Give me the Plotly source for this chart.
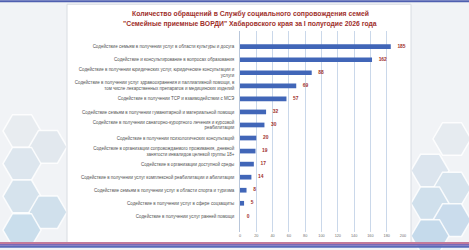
import plotly.graph_objects as go
import math

categories = [
    "Содействие семьям в получении услуг в области культуры и досуга",
    "Содействие и консультирование в вопросах образования",
    "Содействие в получении юридических услуг, юридические консультации и<br>услуги",
    "Содействие в получении услуг здравоохранения и паллиативной помощи, в<br>том числе лекарственных препаратов и медицинских изделий",
    "Содействие в получении ТСР и взаимодействии с МСЭ",
    "Содействие семьям в получении гуманитарной и материальной помощи",
    "Содействие в получении санаторно-курортного лечения и курсовой<br>реабилитации",
    "Содействие в получении психологических консультаций",
    "Содействие в организации сопровождаемого проживания, дневной<br>занятости инвалидов целевой группы 18+",
    "Содействие в организации доступной среды",
    "Содействие в получении услуг комплексной реабилитации и абилитации",
    "Содействие семьям в получении услуг в области спорта и туризма",
    "Содействие в получении услуг в сфере соцзащиты",
    "Содействие в получении услуг ранней помощи",
]
values = [185, 162, 88, 69, 57, 32, 30, 20, 19, 17, 14, 8, 5, 0]
x_ticks = list(range(0, 201, 20))
title_lines = ["Количество обращений в Службу социального сопровождения семей",
               "\"Семейные приемные ВОРДИ\" Хабаровского края за I полугодие 2026 года"]

W, H = 469, 250
ML, MR, MT, MB = 240, 66, 31, 16
PW, PH = W - ML - MR, H - MT - MB

def px(x):
    return (x - ML) / PW

def py(y):
    return (H - MB - y) / PH

fig = go.Figure()
fig.add_trace(go.Bar(
    y=categories, x=values, orientation="h",
    marker=dict(color="#4166b8", line=dict(width=0)),
    width=0.36,
))
fig.add_trace(go.Scatter(
    y=categories, x=values, mode="markers+text",
    marker=dict(size=9, color="rgba(0,0,0,0)"),
    text=["<b>%d</b>" % v for v in values], textposition="middle right",
    textfont=dict(size=4.9, color="#a0302c", family="Liberation Sans"),
    cliponaxis=False, hoverinfo="skip",
))

shapes = []
def hexagon(cx, cy, r, fill, line="rgba(255,255,255,0.85)"):
    pts = []
    for k in range(6):
        a = math.pi / 3 * k
        pts.append((cx + r * math.cos(a), cy + r * math.sin(a)))
    path = "M " + " L ".join(f"{px(a):.4f},{py(b):.4f}" for a, b in pts) + " Z"
    return dict(type="path", xref="paper", yref="paper", path=path,
                fillcolor=fill, line=dict(color=line, width=1.5), layer="below")

for (cx, cy, c) in [(22, 132, "#e8ecf0"), (48, 148, "#e2e8ee"), (22, 165, "#dde6ee"),
                    (22, 198, "#d6e3ed"), (48, 214, "#d0e0ec"), (22, 232, "#cadeec"),
                    (452, 140, "#e6ebf0"), (430, 172, "#dce5ee"), (452, 190, "#d6e3ed"),
                    (430, 205, "#d0e0ec"), (452, 222, "#cadcec"), (430, 238, "#c5daeb")]:
    shapes.append(hexagon(cx, cy, 19, c))

shapes.append(dict(type="rect", xref="paper", yref="paper", x0=px(67), x1=px(411),
                   y0=py(245), y1=py(4), fillcolor="white",
                   line=dict(color="#d8dce2", width=1), layer="below"))
shapes.append(dict(type="rect", xref="paper", yref="paper", x0=px(0), x1=px(W),
                   y0=py(2), y1=py(0), fillcolor="#4f5fb0", line=dict(width=0), layer="below"))
for y0, y1, c in [(244, 246, "#c27a9a"), (246, 248, "#7b68b8"), (248, 250, "#5a6ab8")]:
    shapes.append(dict(type="rect", xref="paper", yref="paper", x0=px(0), x1=px(W),
                       y0=py(y1), y1=py(y0), fillcolor=c, line=dict(width=0), layer="below"))

annotations = [
    dict(text="<b>" + t + "</b>", xref="paper", yref="paper", x=px(250), y=py(yy),
         xanchor="center", yanchor="middle", showarrow=False,
         font=dict(size=6.8, color="#a0302c", family="Liberation Sans"))
    for t, yy in zip(title_lines, [14, 24])
]

fig.update_layout(
    width=W, height=H,
    margin=dict(l=ML, r=MR, t=MT, b=MB),
    paper_bgcolor="#f1f3f6",
    plot_bgcolor="#dfe9f5",
    showlegend=False,
    shapes=shapes,
    annotations=annotations,
    font=dict(family="Liberation Sans"),
)
fig.update_xaxes(range=[0, 200], tickvals=x_ticks, showgrid=True, gridcolor="#cad8ea",
                 gridwidth=0.6, zeroline=False, showline=False,
                 tickfont=dict(size=3.8, color="#707070"), ticks="", ticklen=0)
fig.update_yaxes(autorange="reversed", showgrid=False, ticks="", ticklabelstandoff=4,
                 tickfont=dict(size=4.5, color="#505050"), showline=True,
                 linecolor="#b8c6da", linewidth=0.6)

fig.write_html("out.html")
